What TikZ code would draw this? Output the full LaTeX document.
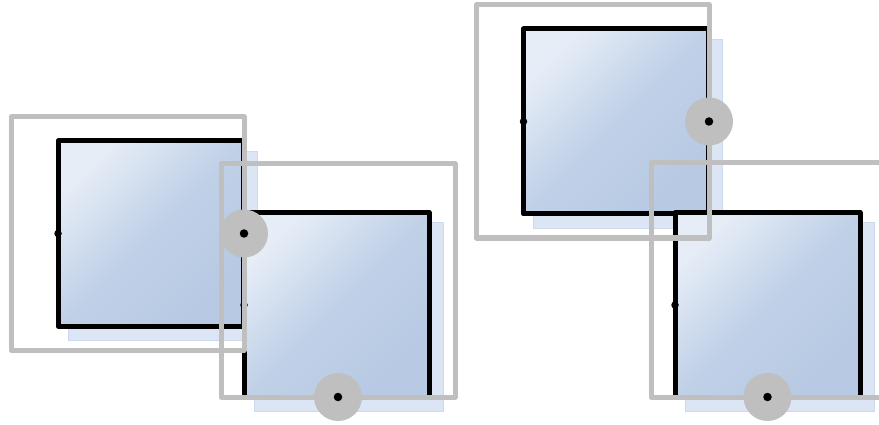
\documentclass[tikz,border=0pt]{standalone}
\usetikzlibrary{shadows}
\definecolor{boxlight}{HTML}{E6EDF7}
\definecolor{boxdark}{HTML}{B7C9E3}
\definecolor{shadowfill}{HTML}{DCE5F3}
\definecolor{shadowline}{HTML}{CBD8EE}
\definecolor{framegray}{HTML}{BFBFBF}
\tikzset{
  bluebox/.style={draw=black, line width=5pt, line join=round,
    minimum width=185pt, minimum height=185pt, inner sep=0pt, outer sep=0pt,
    top color=boxlight, bottom color=boxdark, middle color=boxdark!80!boxlight, shading angle=45,
    general shadow={fill=shadowfill, draw=shadowline, line width=0.8pt,
      shadow xshift=12pt, shadow yshift=-12pt, shadow scale=1.022}},
  grayframe/.style={draw=framegray, line width=5pt, line join=round,
    inner sep=0pt, outer sep=0pt, fill=none},
  knob/.style={circle, fill=framegray, minimum size=48pt, inner sep=0pt},
  pin/.style={circle, fill=black, minimum size=8.5pt, inner sep=0pt},
  smallpin/.style={circle, fill=black, minimum size=7.5pt, inner sep=0pt}
}
\begin{document}
\begin{tikzpicture}[x=1pt,y=-1pt]
\useasboundingbox (0,0) rectangle (879,425);
% boxes
\node[bluebox] (A) at (150.5,233.5) {};
\node[smallpin] (Ap) at (A.west) {};
\node[bluebox] (B) at (336.5,305) {};
\node[smallpin] (Bp) at (B.west) {};
\node[bluebox] (C) at (616,121.5) {};
\node[smallpin] (Cp) at (C.west) {};
\node[bluebox] (D) at (767.5,305) {};
\node[smallpin] (Dp) at (D.west) {};
% frames
\node[grayframe, minimum width=233pt, minimum height=233pt] (FA) at (127.5,233.5) {};
\node[grayframe, minimum width=234pt, minimum height=233pt] (FB) at (338,280.5) {};
\node[grayframe, minimum width=233pt, minimum height=233pt] (FC) at (592.5,121.5) {};
\node[grayframe, minimum width=233pt, minimum height=234pt] (FD) at (767.5,280) {};
% knobs
\node[knob] (KA) at (FA.east) {};
\node[pin] at (KA) {};
\node[knob] (KB) at (FB.south) {};
\node[pin] at (KB) {};
\node[knob] (KC) at (FC.east) {};
\node[pin] at (KC) {};
\node[knob] (KD) at (FD.south) {};
\node[pin] at (KD) {};
\end{tikzpicture}
\end{document}
